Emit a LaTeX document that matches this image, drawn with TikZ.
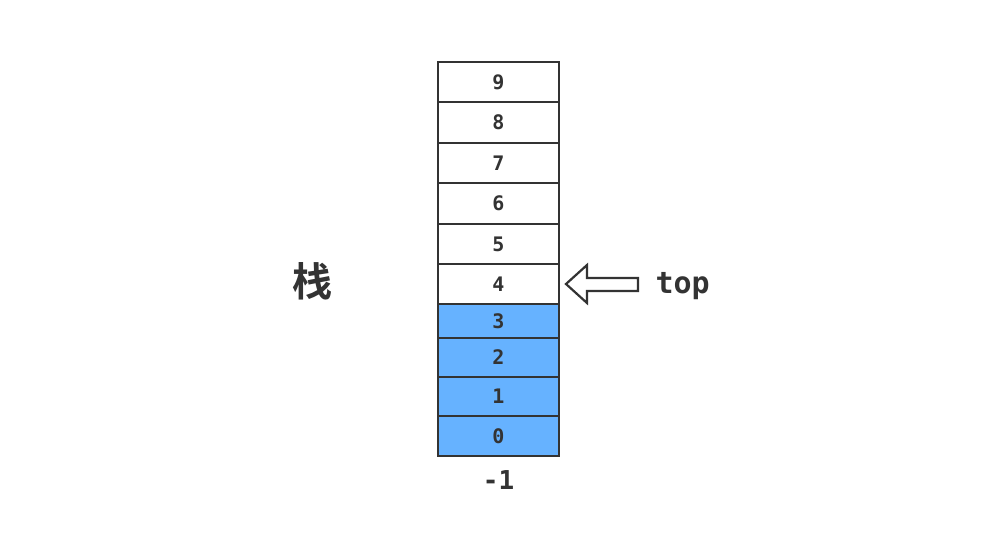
\documentclass[tikz,border=0pt]{standalone}
\usepackage{fontspec}
\setmonofont{DejaVu Sans Mono}
\newfontfamily\cjk{Noto Sans CJK SC Bold}
\usetikzlibrary{positioning}

\definecolor{ink}{HTML}{333333}
\definecolor{stackblue}{HTML}{66B2FF}

\begin{document}
\begin{tikzpicture}[x=1pt, y=-1pt,
    cell/.style={draw=ink, line width=2.8pt, minimum width=121pt, inner sep=0pt,
        font=\ttfamily\bfseries\fontsize{20}{20}\selectfont, text=ink},
    used/.style={cell, fill=stackblue},
    label/.style={font=\ttfamily\bfseries\fontsize{30}{30}\selectfont, text=ink}]
    \useasboundingbox[fill=white] (0, 0) rectangle (1000, 550);
    \foreach \i/\ya/\yb in {9/62/102, 8/102/143, 7/143/183, 6/183/224, 5/224/264, 4/264/304}
        \node[cell, minimum height={\yb-\ya}] (cell\i) at (498.5, {(\ya+\yb)/2}) {\i};
    \foreach \i/\ya/\yb in {3/304/338, 2/338/377, 1/377/416, 0/416/456}
        \node[used, minimum height={\yb-\ya}] (cell\i) at (498.5, {(\ya+\yb)/2}) {\i};
    \node[label, font=\ttfamily\bfseries\fontsize{26}{26}\selectfont, below=10pt of cell0] (bottom) {-1};
    \node[font=\cjk\fontsize{40}{40}\selectfont, text=ink] (name) at (312, 281) {栈};
    \node[label, anchor=west] (top) at (652, 286) {top};
    \coordinate (tip) at (566, 284);
    \draw[ink, line width=2.2pt, line join=miter] (tip) -- ++(21, -19) -- ++(0, 13) -- ++(51, 0)
        -- ++(0, 13) -- ++(-51, 0) -- ++(0, 12) -- cycle;
\end{tikzpicture}
\end{document}
